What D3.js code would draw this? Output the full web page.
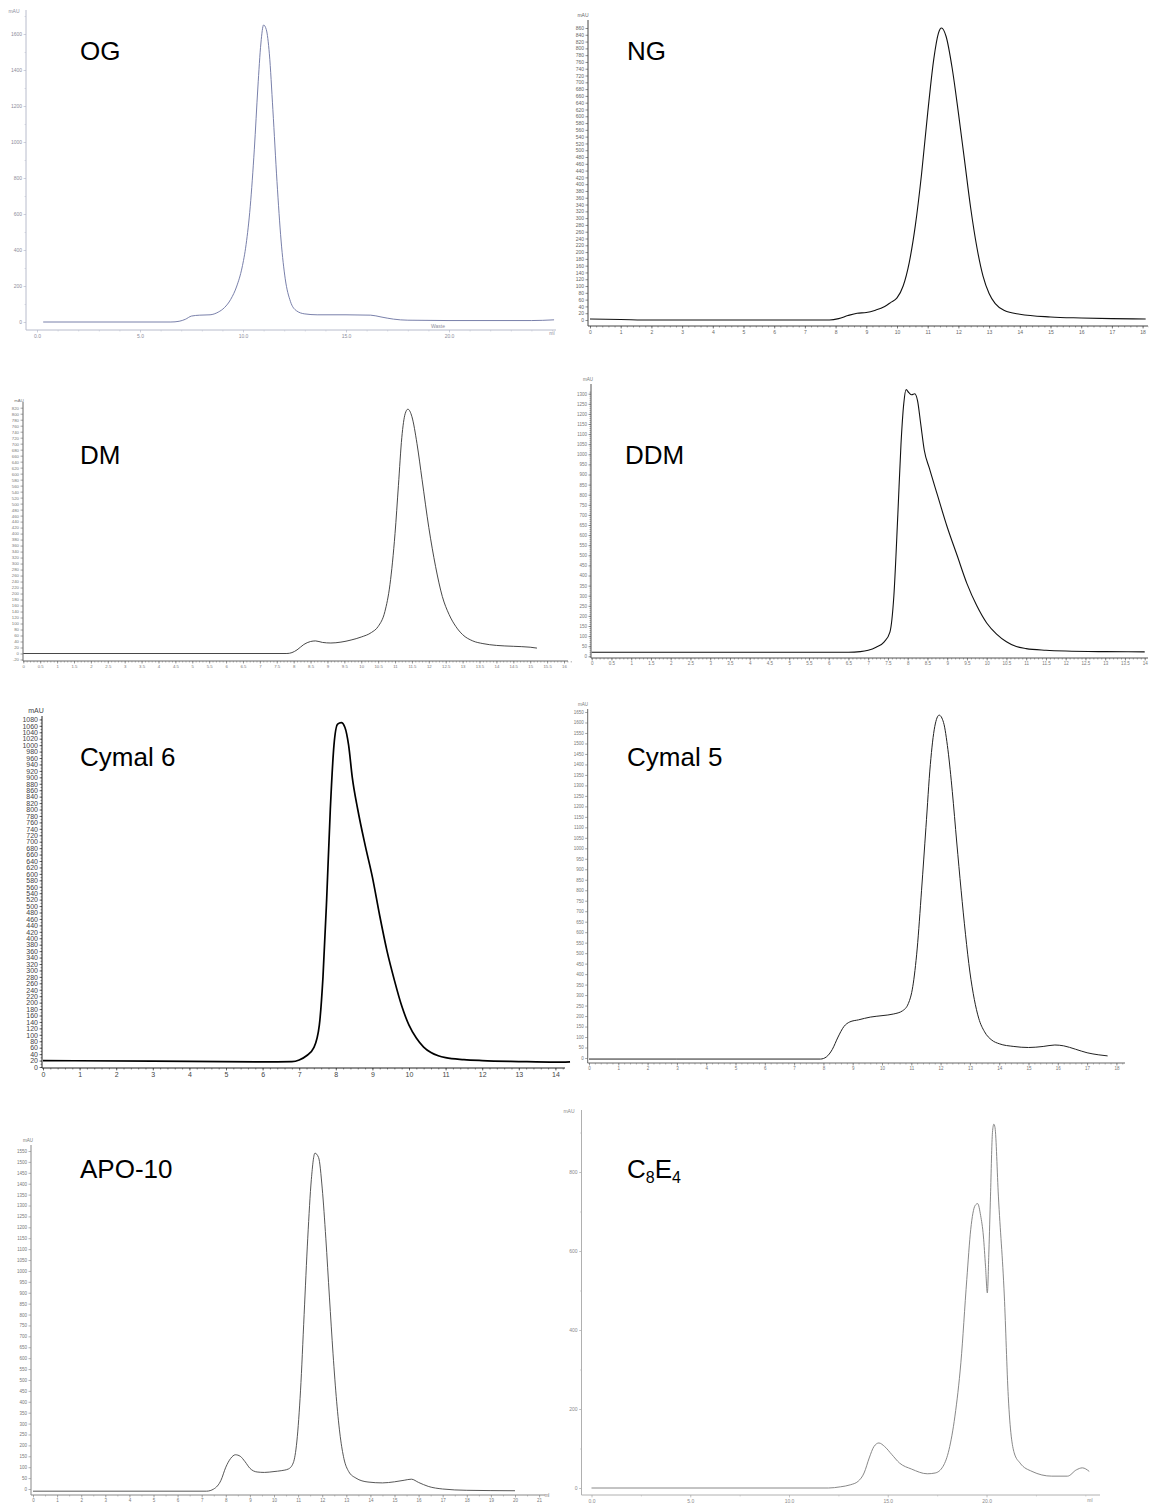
<!DOCTYPE html>
<html><head><meta charset="utf-8">
<script src="https://cdn.jsdelivr.net/npm/d3@7"></script>
<style>body{margin:0;background:#fff}svg{display:block}</style>
</head><body><svg id="c" width="1149" height="1507"></svg>
<script>
// ---------------- DATA ----------------
const panelNames = ["OG", "NG", "DM", "DDM", "Cymal 6", "Cymal 5", "APO-10", "C8E4"];
const unitLabel = "mAU";
const volumeLabel = "ml";
const wasteLabel = "Waste";

// series: [elution volume (ml), absorbance (mAU)]
const ogSeries = [[0.3,0],[6.5,0],[6.9,4],[7.2,15],[7.5,33],[7.9,38],[8.4,40],[8.8,55],[9.1,80],[9.4,125],[9.7,200],[9.95,300],[10.15,430],[10.35,640],[10.55,960],[10.72,1300],[10.87,1550],[11.0,1650],[11.13,1625],[11.28,1490],[11.45,1180],[11.65,780],[11.85,450],[12.05,240],[12.3,115],[12.6,62],[13.0,45],[13.6,40],[15.0,40],[16.2,38],[16.7,28],[17.3,16],[18.0,10],[20.0,8],[24.0,8],[25.1,12]];
const ngSeries = [[0,3],[1,1.5],[2,0],[7.8,0],[8.1,4],[8.4,13],[8.7,20],[9.0,22],[9.3,29],[9.6,40],[9.8,52],[10.0,65],[10.2,100],[10.4,170],[10.6,280],[10.8,430],[11.0,610],[11.2,770],[11.35,845],[11.45,860],[11.6,835],[11.8,740],[12.0,610],[12.2,470],[12.4,330],[12.6,215],[12.8,130],[13.0,78],[13.2,48],[13.5,28],[14.0,17],[15.0,9],[16.0,6],[17.0,4],[18.1,3]];
const dmSeries = [[0,0],[7.8,0],[7.95,3],[8.1,12],[8.3,30],[8.5,40],[8.65,42],[8.85,37],[9.1,35],[9.4,38],[9.7,45],[10.0,55],[10.3,70],[10.5,90],[10.7,140],[10.85,230],[11.0,400],[11.1,560],[11.2,720],[11.3,800],[11.38,815],[11.5,790],[11.65,700],[11.8,580],[12.0,420],[12.2,290],[12.4,190],[12.6,130],[12.8,90],[13.0,63],[13.3,42],[13.6,33],[14.0,27],[14.5,24],[15.0,21],[15.2,18]];
const ddmSeries = [[0,20],[6.5,20],[6.8,23],[7.0,30],[7.2,45],[7.4,70],[7.55,120],[7.65,300],[7.75,700],[7.83,1050],[7.9,1250],[7.96,1320],[8.03,1305],[8.1,1295],[8.18,1300],[8.25,1265],[8.33,1150],[8.42,1020],[8.55,930],[8.75,800],[9.0,640],[9.25,500],[9.5,360],[9.75,250],[10.0,165],[10.25,110],[10.5,72],[10.75,48],[11.0,38],[11.5,30],[12.0,26],[13.0,23],[14.0,22]];
const cymal6Series = [[0,20],[3,18],[6,16],[6.8,17],[7.0,22],[7.2,35],[7.4,60],[7.55,130],[7.65,280],[7.75,520],[7.85,800],[7.95,1000],[8.05,1065],[8.15,1070],[8.25,1055],[8.35,1000],[8.45,900],[8.6,800],[8.8,690],[9.0,590],[9.2,470],[9.4,360],[9.6,270],[9.8,190],[10.0,130],[10.2,90],[10.4,62],[10.6,45],[10.8,35],[11.0,29],[11.5,23],[12.0,20],[13.0,17],[14.0,15],[14.4,16]];
const cymal5Series = [[0,-5],[3,-5],[7.9,-5],[8.1,5],[8.3,40],[8.5,100],[8.7,150],[8.9,172],[9.2,182],[9.6,195],[10.0,202],[10.4,210],[10.7,225],[10.9,260],[11.05,340],[11.2,520],[11.35,800],[11.5,1100],[11.65,1400],[11.8,1580],[11.95,1635],[12.1,1600],[12.25,1470],[12.4,1270],[12.55,1030],[12.7,800],[12.85,590],[13.0,410],[13.15,280],[13.3,190],[13.5,125],[13.75,85],[14.0,68],[14.5,55],[15.0,50],[15.5,55],[15.9,62],[16.2,58],[16.6,42],[17.0,25],[17.4,15],[17.7,10]];
const apo10Series = [[0,-10],[7.2,-10],[7.5,0],[7.8,40],[8.0,100],[8.2,140],[8.4,157],[8.6,150],[8.8,125],[9.0,95],[9.3,78],[9.6,76],[10.0,80],[10.3,84],[10.6,92],[10.8,120],[10.95,220],[11.1,450],[11.25,800],[11.4,1150],[11.55,1420],[11.7,1540],[11.85,1520],[12.0,1380],[12.15,1150],[12.3,880],[12.45,620],[12.6,400],[12.75,240],[12.9,140],[13.1,80],[13.4,50],[13.9,32],[14.5,28],[15.0,33],[15.4,40],[15.7,45],[16.0,30],[16.4,12],[17.0,0],[18.0,-6],[20.0,-8]];
const c8e4Series = [[0,0],[12.0,0],[12.6,3],[13.1,8],[13.5,17],[13.8,38],[14.06,76],[14.3,105],[14.55,114],[14.84,105],[15.2,85],[15.6,63],[16.2,48],[17.0,36],[17.4,38],[17.8,55],[18.1,97],[18.4,182],[18.7,317],[19.0,528],[19.2,655],[19.42,715],[19.55,720],[19.7,690],[19.84,638],[19.95,560],[20.04,494],[20.12,600],[20.2,739],[20.3,900],[20.37,921],[20.43,912],[20.6,739],[20.9,486],[21.1,232],[21.4,89],[21.7,63],[22.3,42],[23.3,30],[24.1,30],[24.55,46],[24.85,51],[25.2,42]];

// tick labels
const ogXTicks = [0, 5, 10, 15, 20];
const ogYTicks = [0, 200, 400, 600, 800, 1000, 1200, 1400, 1600];
const ngXTicks = d3.range(0, 19, 1);
const ngYTicks = d3.range(0, 861, 20);
const dmXTicks = d3.range(0, 16.01, 0.5);
const dmYTicks = d3.range(-20, 821, 20);
const ddmXTicks = d3.range(0, 14.01, 0.5);
const ddmYTicks = d3.range(0, 1301, 50);
const cymal6XTicks = d3.range(0, 15, 1);
const cymal6YTicks = d3.range(0, 1081, 20);
const cymal5XTicks = d3.range(0, 19, 1);
const cymal5YTicks = d3.range(0, 1651, 50);
const apo10XTicks = d3.range(0, 22, 1);
const apo10YTicks = d3.range(0, 1551, 50);
const c8e4XTicks = [0, 5, 10, 15, 20];
const c8e4YTicks = [0, 200, 400, 600, 800];

// ---------------- LAYOUT / STYLE ----------------
const FONT = "'Liberation Sans', Arial, Helvetica, sans-serif";
const f1 = d3.format(".1f");
const fAuto = d => String(d);
const panels = [
  {name: panelNames[0], data: ogSeries, xDom:[0,25], xRng:[37,552], yDom:[0,1600], yRng:[322,34],
   axX:26, axY:330, axTop:10, axEnd:556, xTicks:ogXTicks, xMinor:d3.range(0,25.1,1), yTicks:ogYTicks, yMinor:d3.range(0,1701,100),
   xFmt:f1, yFmt:fAuto, axis:"#b8bccc", text:"#8d8d9c", line:"#6a72a0", lw:0.9, fs:5, unit:[14,13], title:[80,60], ml:[552,335], waste:[438,328]},
  {name: panelNames[1], data: ngSeries, xDom:[0,18], xRng:[590,1142.6], yDom:[0,860], yRng:[320,28],
   axX:588, axY:326, axTop:20, axEnd:1148, xTicks:ngXTicks, xMinor:d3.range(0,18.3,0.2), yTicks:ngYTicks, yMinor:[],
   xFmt:fAuto, yFmt:fAuto, axis:"#444", text:"#666", line:"#111", lw:1.1, fs:5, unit:[583,17], title:[627,60]},
  {name: panelNames[2], data: dmSeries, xDom:[0,16], xRng:[23.3,564], yDom:[0,820], yRng:[653.5,407.7],
   axX:23, axY:661, axTop:402, axEnd:568, xTicks:dmXTicks, xMinor:d3.range(0,16.3,0.1), yTicks:dmYTicks, yMinor:[],
   xFmt:fAuto, yFmt:fAuto, axis:"#666", text:"#777", line:"#333", lw:0.9, fs:4.3, unit:[19,402], title:[80,464]},
  {name: panelNames[3], data: ddmSeries, xDom:[0,14], xRng:[591.7,1144.7], yDom:[0,1300], yRng:[656.3,393.7],
   axX:591, axY:658, axTop:384, axEnd:1148, xTicks:ddmXTicks, xMinor:d3.range(0,14.1,0.1), yTicks:ddmYTicks, yMinor:d3.range(0,1311,10),
   xFmt:fAuto, yFmt:fAuto, axis:"#555", text:"#777", line:"#111", lw:1.1, fs:4.5, unit:[588,381], title:[625,464]},
  {name: panelNames[4], data: cymal6Series, xDom:[0,14], xRng:[43,555.4], yDom:[0,1080], yRng:[1067,719.4],
   axX:42, axY:1068, axTop:716, axEnd:565, xTicks:cymal6XTicks, xMinor:d3.range(0,14.4,0.2), yTicks:cymal6YTicks, yMinor:d3.range(0,1081,10),
   xFmt:fAuto, yFmt:fAuto, axis:"#222", text:"#444", line:"#000", lw:1.7, fs:7, unit:[36,713], title:[80,766]},
  {name: panelNames[5], data: cymal5Series, xDom:[0,18], xRng:[589,1116.4], yDom:[0,1650], yRng:[1058,712],
   axX:587.7, axY:1063, axTop:709, axEnd:1125, xTicks:cymal5XTicks, xMinor:d3.range(0,18.3,0.2), yTicks:cymal5YTicks, yMinor:[],
   xFmt:fAuto, yFmt:fAuto, axis:"#666", text:"#777", line:"#222", lw:1, fs:4.5, unit:[583,706], title:[627,766]},
  {name: panelNames[6], data: apo10Series, xDom:[0,21], xRng:[33,539.1], yDom:[0,1550], yRng:[1489,1151],
   axX:31, axY:1495, axTop:1145, axEnd:545, xTicks:apo10XTicks, xMinor:d3.range(0,21.1,0.5), yTicks:apo10YTicks, yMinor:[],
   xFmt:fAuto, yFmt:fAuto, axis:"#888", text:"#777", line:"#444", lw:0.9, fs:4.5, unit:[28,1142], title:[80,1178], ml:[547,1497]},
  {name: panelNames[7], data: c8e4Series, xDom:[0,25], xRng:[591.5,1085.3], yDom:[0,800], yRng:[1488,1172],
   axX:581.5, axY:1495, axTop:1110, axEnd:1100, xTicks:c8e4XTicks, xMinor:d3.range(0,25.1,2.5), yTicks:c8e4YTicks, yMinor:d3.range(0,901,100),
   xFmt:f1, yFmt:fAuto, axis:"#b0b0b0", text:"#8a8a8a", line:"#7a7a7a", lw:0.9, fs:5, unit:[569,1113], title:[627,1178], ml:[1090,1502], sub:true}
];

const svg = d3.select("#c");

function drawPanel(p) {
  const x = d3.scaleLinear().domain(p.xDom).range(p.xRng);
  const y = d3.scaleLinear().domain(p.yDom).range(p.yRng);
  const g = svg.append("g").attr("font-family", FONT);

  if (p.yMinor.length) {
    g.append("g").attr("transform", `translate(${p.axX},0)`)
      .call(d3.axisLeft(y).tickValues(p.yMinor).tickSize(1.5).tickFormat(""))
      .call(a => { a.select(".domain").remove(); a.selectAll("line").attr("stroke", p.axis).attr("stroke-width", 0.5); });
  }
  if (p.xMinor.length) {
    g.append("g").attr("transform", `translate(0,${p.axY})`)
      .call(d3.axisBottom(x).tickValues(p.xMinor).tickSize(1.5).tickFormat(""))
      .call(a => { a.select(".domain").remove(); a.selectAll("line").attr("stroke", p.axis).attr("stroke-width", 0.5); });
  }
  g.append("g").attr("transform", `translate(${p.axX},0)`)
    .call(d3.axisLeft(y).tickValues(p.yTicks).tickSize(2.5).tickPadding(1.5).tickFormat(p.yFmt))
    .call(a => {
      a.select(".domain").remove();
      a.selectAll("line").attr("stroke", p.axis).attr("stroke-width", 0.6);
      a.selectAll("text").attr("fill", p.text).attr("font-size", p.fs).attr("font-family", FONT);
    });
  g.append("g").attr("transform", `translate(0,${p.axY})`)
    .call(d3.axisBottom(x).tickValues(p.xTicks).tickSize(2.5).tickPadding(1.5).tickFormat(p.xFmt))
    .call(a => {
      a.select(".domain").remove();
      a.selectAll("line").attr("stroke", p.axis).attr("stroke-width", 0.6);
      a.selectAll("text").attr("fill", p.text).attr("font-size", p.fs).attr("font-family", FONT);
    });
  g.append("line").attr("x1", p.axX).attr("x2", p.axX).attr("y1", p.axTop).attr("y2", p.axY)
    .attr("stroke", p.axis).attr("stroke-width", 1);
  g.append("line").attr("x1", p.axX).attr("x2", p.axEnd).attr("y1", p.axY).attr("y2", p.axY)
    .attr("stroke", p.axis).attr("stroke-width", 1);

  g.append("text").attr("x", p.unit[0]).attr("y", p.unit[1]).attr("text-anchor", "middle")
    .attr("font-size", p.fs).attr("fill", p.text).text(unitLabel);
  if (p.ml) {
    g.append("text").attr("x", p.ml[0]).attr("y", p.ml[1]).attr("text-anchor", "middle")
      .attr("font-size", p.fs).attr("fill", p.text).text(volumeLabel);
  }
  if (p.waste) {
    g.append("text").attr("x", p.waste[0]).attr("y", p.waste[1]).attr("text-anchor", "middle")
      .attr("font-size", p.fs).attr("fill", p.text).text(wasteLabel);
  }

  const line = d3.line().x(d => x(d[0])).y(d => y(d[1])).curve(d3.curveMonotoneX);
  g.append("path").datum(p.data).attr("d", line).attr("fill", "none")
    .attr("stroke", p.line).attr("stroke-width", p.lw).attr("stroke-linejoin", "round");

  const t = g.append("text").attr("x", p.title[0]).attr("y", p.title[1])
    .attr("font-size", 26).attr("fill", "#000");
  if (p.sub) {
    t.append("tspan").text("C");
    t.append("tspan").attr("font-size", 16).attr("dy", 5).text("8");
    t.append("tspan").attr("dy", -5).text("E");
    t.append("tspan").attr("font-size", 16).attr("dy", 5).text("4");
  } else {
    t.text(p.name);
  }
}

panels.forEach(drawPanel);
</script>
</body></html>
